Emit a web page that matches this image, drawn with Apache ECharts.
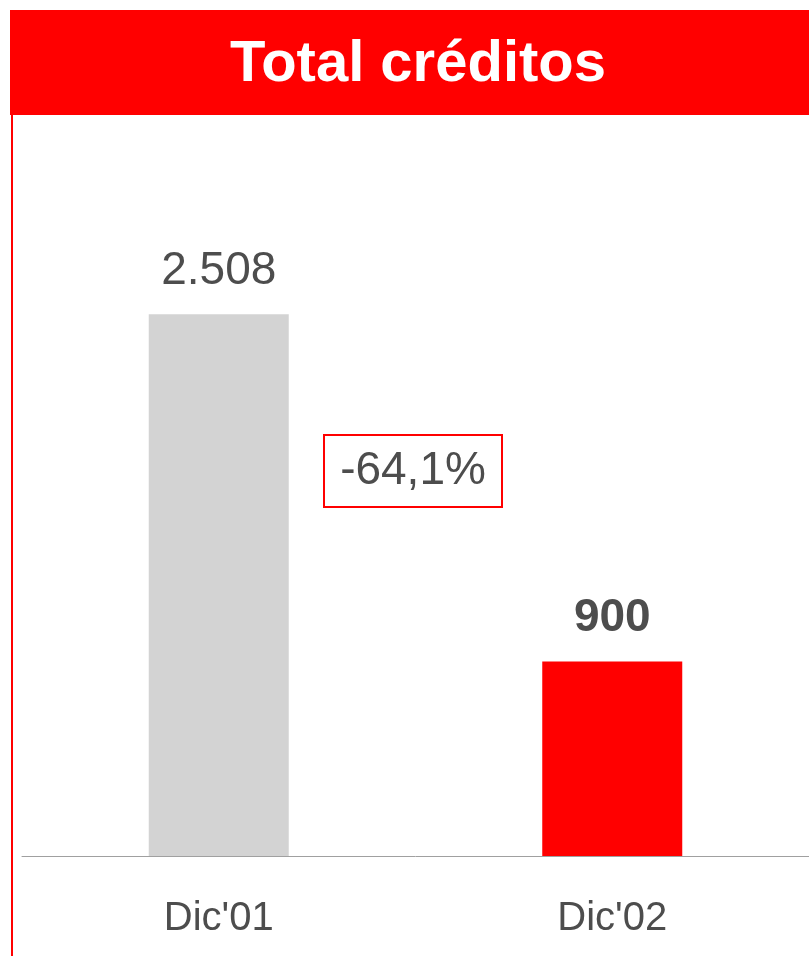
<!DOCTYPE html>
<html>
<head>
<meta charset="utf-8">
<script src="https://cdn.jsdelivr.net/npm/echarts@6/dist/echarts.min.js"></script>
<style>
  html, body { margin: 0; padding: 0; background: #ffffff; }
  #chart { width: 809px; height: 956px; }
</style>
</head>
<body>
<div id="chart"></div>
<script>
// Total de créditos al cierre de cada año
const categories = ["Dic'01", "Dic'02"];
const values = [2508, 900];
const labelWeights = ['normal', 'bold'];
const barColors = ['#d3d3d3', '#ff0000'];

const fmtInt = v => String(v).replace(/\B(?=(\d{3})+(?!\d))/g, '.');
const change = (values[1] - values[0]) / values[0] * 100;
const changeText = (change > 0 ? '+' : '') + change.toFixed(1).replace('.', ',') + '%';

const FONT = 'Liberation Sans, Arial, Helvetica, sans-serif';
const TEXT = '#4d4d4d';

const chart = echarts.init(document.getElementById('chart'), null, { renderer: 'canvas' });

chart.setOption({
  backgroundColor: '#ffffff',
  animation: false,
  title: {
    text: 'Total créditos',
    left: 413,
    top: 60,
    textAlign: 'center',
    textVerticalAlign: 'middle',
    textStyle: { color: '#ffffff', fontSize: 58, fontWeight: 'bold', fontFamily: FONT }
  },
  grid: { left: 22, right: 0, top: 208, bottom: 100, containLabel: false },
  xAxis: {
    type: 'category',
    data: categories,
    axisLine: { show: true, lineStyle: { color: '#a0a0a0', width: 1 } },
    axisTick: { show: false },
    axisLabel: { color: TEXT, fontSize: 40, fontFamily: FONT, margin: 43 },
    splitLine: { show: false }
  },
  yAxis: {
    type: 'value',
    min: 0,
    max: 3000,
    show: false,
    splitLine: { show: false }
  },
  series: [{
    type: 'bar',
    barWidth: 140,
    data: values.map((v, i) => ({
      value: v,
      itemStyle: { color: barColors[i] },
      label: { fontWeight: labelWeights[i] }
    })),
    label: {
      show: true,
      position: 'top',
      distance: 20,
      color: TEXT,
      fontSize: 46,
      fontFamily: FONT,
      formatter: p => fmtInt(p.value)
    }
  }],
  graphic: [
    {
      type: 'rect',
      z: -1,
      shape: { x: 10, y: 10, width: 799, height: 105 },
      style: { fill: '#ff0000' }
    },
    {
      type: 'line',
      shape: { x1: 12, y1: 115, x2: 12, y2: 956 },
      style: { stroke: '#ff0000', lineWidth: 2 }
    },
    {
      type: 'rect',
      shape: { x: 324, y: 435, width: 178, height: 72 },
      style: { fill: '#ffffff', stroke: '#ff0000', lineWidth: 2 }
    },
    {
      type: 'text',
      x: 413,
      y: 471,
      style: {
        text: changeText,
        fill: TEXT,
        font: '46px ' + FONT,
        textAlign: 'center',
        textVerticalAlign: 'middle'
      }
    }
  ]
});
</script>
</body>
</html>
